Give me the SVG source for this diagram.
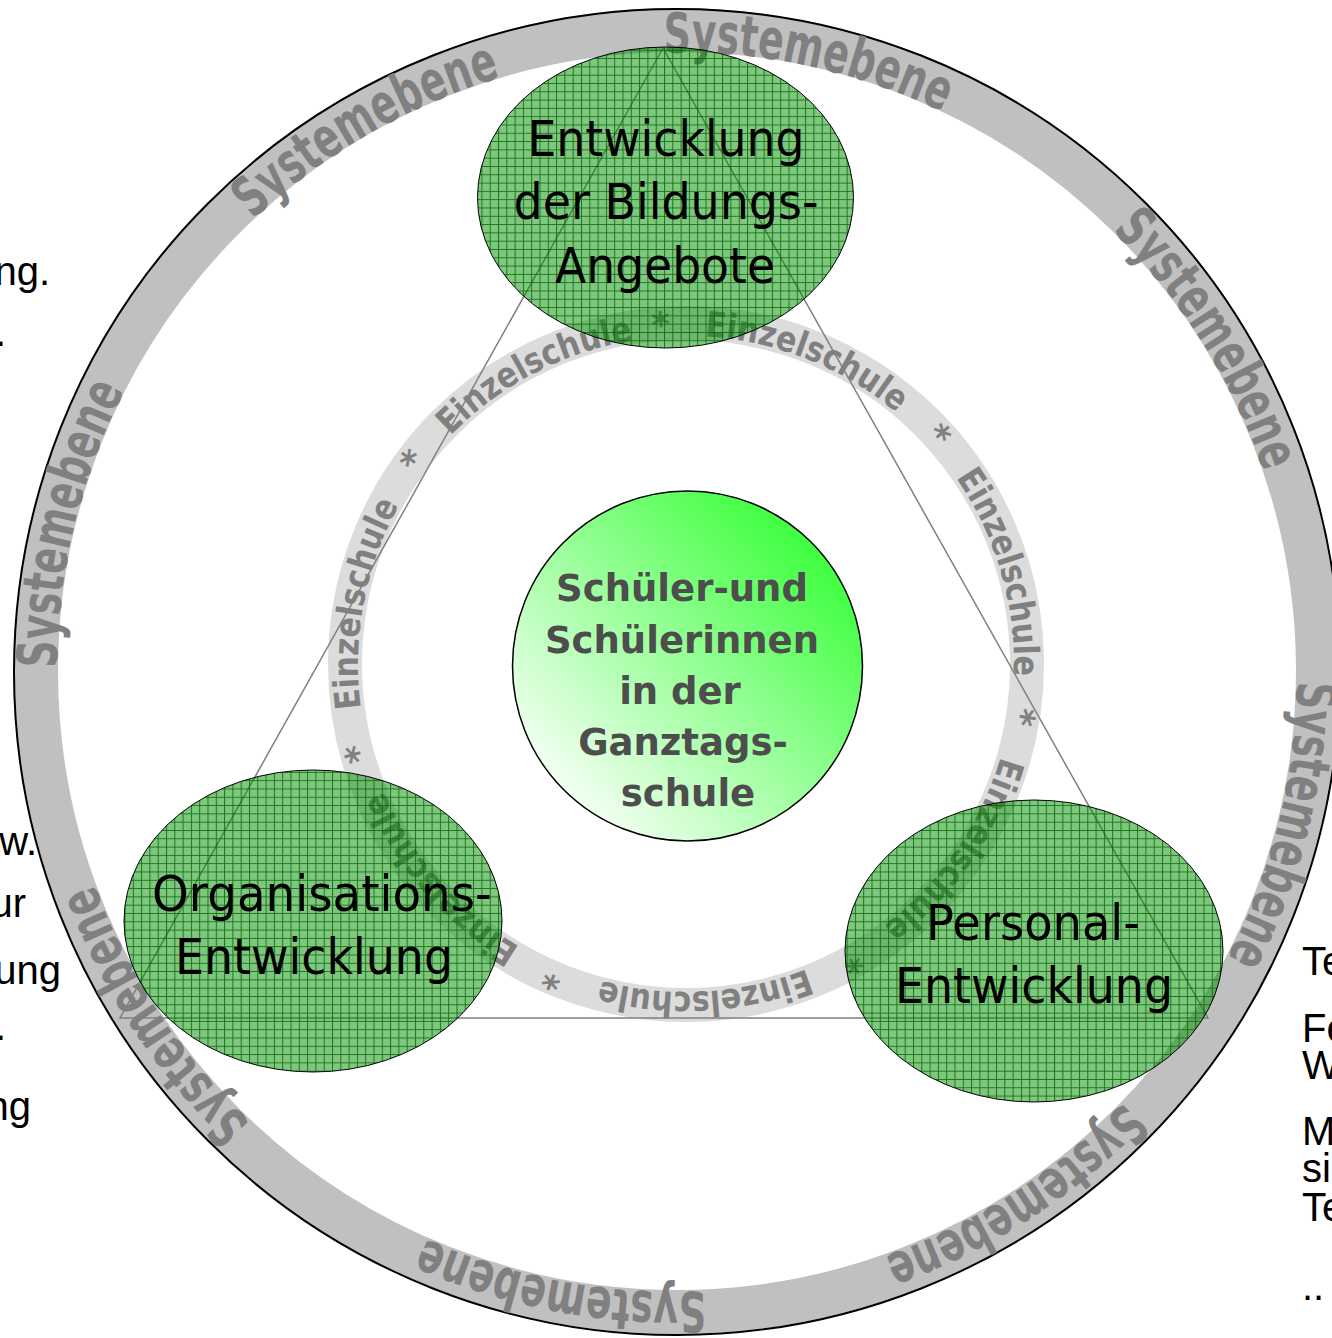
<svg xmlns="http://www.w3.org/2000/svg" xmlns:xlink="http://www.w3.org/1999/xlink" width="1332" height="1338" viewBox="0 0 1332 1338">
<style>
.sys{font-family:"DejaVu Sans","Verdana",sans-serif;font-weight:bold;font-size:56px;fill:#808080}
.ein{font-family:"DejaVu Sans","Verdana",sans-serif;font-weight:bold;font-size:35px;fill:#808080}
.node{font-family:"DejaVu Sans","Tahoma",sans-serif;font-size:50px;fill:#000;text-anchor:middle}
.ctr{font-family:"DejaVu Sans","Verdana",sans-serif;font-weight:bold;font-size:37px;fill:#4d4d4d;text-anchor:middle}
.side{font-family:"Liberation Sans","Arial",sans-serif;font-size:40px;fill:#000}
.ell{fill:url(#grid);stroke:#000;stroke-width:1}
</style>
<defs>
<pattern id="grid" width="8.3" height="8.3" patternUnits="userSpaceOnUse">
<rect width="8.3" height="8.3" fill="#009000" fill-opacity="0.5"/>
<path d="M0 0.5H8.3M0.5 0V8.3" stroke="#006400" stroke-opacity="0.8" stroke-width="1"/>
</pattern>
<linearGradient id="cg" x1="0" y1="1" x2="1" y2="0">
<stop offset="0.1" stop-color="#ffffff"/>
<stop offset="0.9" stop-color="#33ff33"/>
</linearGradient>
<path id="sysPath" d="M677 52A620 620 0 1 1 677 1292A620 620 0 1 1 677 52"/>
<path id="einPath" d="M686 336A328 328 0 1 1 686 992A328 328 0 1 1 686 336"/>
<g id="sysWord"><text class="sys"><textPath xlink:href="#sysPath" startOffset="3" textLength="288" lengthAdjust="spacingAndGlyphs">Systemebene</textPath></text></g>
<g id="einUnit">
<text class="ein" text-anchor="middle"><textPath xlink:href="#einPath" startOffset="57.2">*</textPath></text>
<text class="ein"><textPath xlink:href="#einPath" startOffset="100" textLength="210" lengthAdjust="spacingAndGlyphs">Einzelschule</textPath></text>
</g>
</defs>
<rect width="1332" height="1338" fill="#fff"/>

<g id="side-text" class="side">
<text x="50" y="285" text-anchor="end">ng.</text>
<text x="6" y="346" text-anchor="end">.</text>
<text x="37" y="855" text-anchor="end">w.</text>
<text x="26" y="917" text-anchor="end">ur</text>
<text x="61" y="984" text-anchor="end">ung</text>
<text x="6" y="1040" text-anchor="end">.</text>
<text x="31" y="1120" text-anchor="end">ng</text>
<text x="1302" y="975">Te</text>
<text x="1302" y="1042">Fe</text>
<text x="1302" y="1079">W</text>
<text x="1302" y="1145">M</text>
<text x="1302" y="1182">si</text>
<text x="1302" y="1221">Te</text>
<text x="1302" y="1300">..</text>
</g>

<g id="systemebene-ring">
<circle cx="677" cy="671" r="641" fill="none" stroke="#c0c0c0" stroke-width="44"/>
<circle cx="677" cy="672" r="663" fill="none" stroke="#000" stroke-width="2"/>
<g transform="rotate(-1.5 677 672)">
<use xlink:href="#sysWord"/>
<use xlink:href="#sysWord" transform="rotate(45.8 677 672)"/>
<use xlink:href="#sysWord" transform="rotate(92.1 677 672)"/>
<use xlink:href="#sysWord" transform="rotate(135.1 677 672)"/>
<use xlink:href="#sysWord" transform="rotate(178.6 677 672)"/>
<use xlink:href="#sysWord" transform="rotate(224.6 677 672)"/>
<use xlink:href="#sysWord" transform="rotate(271.6 677 672)"/>
<use xlink:href="#sysWord" transform="rotate(318.1 677 672)"/>
</g>
</g>

<g id="einzelschule-ring">
<circle cx="686" cy="664" r="341" fill="none" stroke="#dcdcdc" stroke-width="34"/>
<use xlink:href="#einUnit" transform="rotate(-14.2 686 664)"/>
<use xlink:href="#einUnit" transform="rotate(37.9 686 664)"/>
<use xlink:href="#einUnit" transform="rotate(88.9 686 664)"/>
<use xlink:href="#einUnit" transform="rotate(140.9 686 664)"/>
<use xlink:href="#einUnit" transform="rotate(193 686 664)"/>
<use xlink:href="#einUnit" transform="rotate(244.8 686 664)"/>
<use xlink:href="#einUnit" transform="rotate(296.6 686 664)"/>
</g>

<g id="connectors">
<polygon points="663,48 120,1018 1208,1018" fill="none" stroke="#808080" stroke-width="1.5"/>
</g>

<g id="node-bildungsangebote">
<ellipse class="ell" cx="665.5" cy="197.5" rx="188" ry="150.5"/>
<text class="node" x="666" y="156" textLength="277" lengthAdjust="spacingAndGlyphs">Entwicklung</text>
<text class="node" x="666" y="219" textLength="305" lengthAdjust="spacingAndGlyphs">der Bildungs-</text>
<text class="node" x="665" y="283" textLength="220" lengthAdjust="spacingAndGlyphs">Angebote</text>
</g>

<g id="node-organisation">
<ellipse class="ell" cx="313" cy="921" rx="189" ry="151"/>
<text class="node" x="322" y="911" textLength="340" lengthAdjust="spacingAndGlyphs">Organisations-</text>
<text class="node" x="314" y="974" textLength="278" lengthAdjust="spacingAndGlyphs">Entwicklung</text>
</g>

<g id="node-personal">
<ellipse class="ell" cx="1034" cy="951" rx="189" ry="151"/>
<text class="node" x="1033" y="940" textLength="214" lengthAdjust="spacingAndGlyphs">Personal-</text>
<text class="node" x="1034" y="1003" textLength="278" lengthAdjust="spacingAndGlyphs">Entwicklung</text>
</g>

<g id="node-center">
<circle cx="687.5" cy="666" r="175" fill="url(#cg)" stroke="#000" stroke-width="1.5"/>
<text class="ctr" x="682" y="601">Schüler-und</text>
<text class="ctr" x="682" y="653">Schülerinnen</text>
<text class="ctr" x="680" y="704">in der</text>
<text class="ctr" x="683" y="755">Ganztags-</text>
<text class="ctr" x="688" y="806">schule</text>
</g>
</svg>
